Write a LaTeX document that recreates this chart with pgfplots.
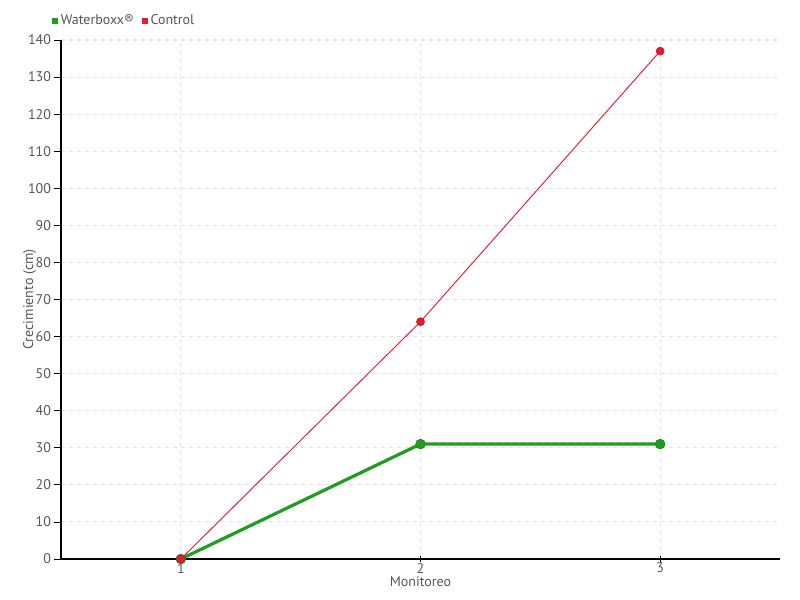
\documentclass[border=0pt]{standalone}
\usepackage{pgfplots}
\pgfplotsset{compat=1.18}
\usepackage{fontspec}
\setmainfont{PT Sans}
\definecolor{wgreen}{HTML}{1E9E1E}
\definecolor{wgreendark}{HTML}{2E7D2E}
\definecolor{cred}{HTML}{E8192C}
\definecolor{txt}{HTML}{555555}
\begin{document}
\begin{tikzpicture}
\path[use as bounding box] (-45.75pt,-30.75pt) rectangle (554.25pt,419.25pt);
\begin{axis}[
  scale only axis,
  width=539.25pt, height=389.25pt,
  xmin=0.5, xmax=3.5,
  ymin=0, ymax=140,
  xtick={1,2,3},
  ytick={0,10,...,140},
  axis x line=bottom, axis y line=left,
  axis line style={-, black, line width=0.9pt},
  tick style={black, line width=0.6pt},
  major tick length=5pt,
  xtick align=center, ytick align=outside,
  grid=major,
  major grid style={dashed, gray!22, line width=0.8pt},
  /pgf/number format/assume math mode=true,
  tick label style={font=\fontsize{10.5}{12}\selectfont, text=txt},
  xticklabel style={yshift=3pt},
  yticklabel style={xshift=1pt},
  xlabel={Monitoreo}, ylabel={Crecimiento (cm)},
  label style={font=\fontsize{10.5}{12}\selectfont, text=txt},
  xlabel style={yshift=4pt},
  ylabel style={yshift=-13pt},
  legend columns=-1,
  legend style={at={(-0.018,1.037)}, anchor=west, draw=none, fill=none,
    font=\fontsize{10.5}{12}\selectfont, text=txt,
    /tikz/every even column/.append style={column sep=4pt}},
  legend image code/.code={\fill[#1, draw=none] (0pt,-2.2pt) rectangle (4.4pt,2.2pt);},
  clip=false,
]
\addplot[color=wgreen, line width=2.4pt, mark=*, mark size=3.6pt,
  mark options={fill=wgreen, draw=wgreendark, line width=0.6pt}]
  coordinates {(1,0) (2,31) (3,31)};
\addlegendentry{Waterboxx®}
\addplot[color=cred, line width=0.7pt, mark=*, mark size=3pt,
  mark options={fill=cred, draw=cred!80!black, line width=0.4pt}]
  coordinates {(1,0) (2,64) (3,137)};
\addlegendentry{Control}
\end{axis}
\end{tikzpicture}
\end{document}
